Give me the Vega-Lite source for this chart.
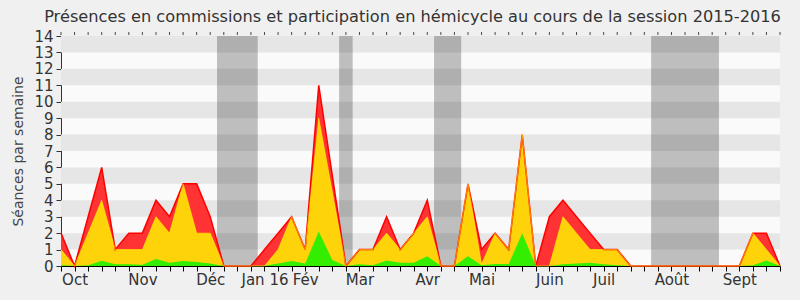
{
  "$schema": "https://vega.github.io/schema/vega-lite/v6.json",
  "autosize": {"type": "none"},
  "width": 719,
  "height": 230,
  "padding": {"left": 61, "top": 36, "right": 20, "bottom": 34},
  "background": "#f0f0f0",
  "config": {
    "view": {"stroke": null, "fill": "#fafafa"},
    "font": "DejaVu Sans",
    "axis": {"labelFont": "DejaVu Sans", "titleFont": "DejaVu Sans", "labelColor": "#333333", "titleColor": "#444444", "domainColor": "#333333", "tickColor": "#333333", "grid": false}
  },
  "title": {"text": "Présences en commissions et participation en hémicycle au cours de la session 2015-2016", "fontSize": 16.2, "fontWeight": "normal", "color": "#333333", "font": "DejaVu Sans", "anchor": "middle", "dx": -8, "offset": 4},
  "datasets": {
    "stripes": [
      {"lo": 1, "hi": 2}, {"lo": 3, "hi": 4}, {"lo": 5, "hi": 6}, {"lo": 7, "hi": 8},
      {"lo": 9, "hi": 10}, {"lo": 11, "hi": 12}, {"lo": 13, "hi": 14}
    ],
    "vacances": [
      {"start": 11.5, "end": 14.5}, {"start": 20.5, "end": 21.5},
      {"start": 27.5, "end": 29.5}, {"start": 43.5, "end": 48.5}
    ],
    "weeks": [
      {"week": 0, "red": 2, "yellow": 1, "green": 0.06},
      {"week": 1, "red": 0, "yellow": 0, "green": 0},
      {"week": 2, "red": 3, "yellow": 2, "green": 0.05},
      {"week": 3, "red": 6, "yellow": 4, "green": 0.32},
      {"week": 4, "red": 1, "yellow": 1, "green": 0.1},
      {"week": 5, "red": 2, "yellow": 1, "green": 0.1},
      {"week": 6, "red": 2, "yellow": 1, "green": 0.08},
      {"week": 7, "red": 4, "yellow": 3, "green": 0.43},
      {"week": 8, "red": 3, "yellow": 2, "green": 0.2},
      {"week": 9, "red": 5, "yellow": 5, "green": 0.3},
      {"week": 10, "red": 5, "yellow": 2, "green": 0.25},
      {"week": 11, "red": 3, "yellow": 2, "green": 0.15},
      {"week": 12, "red": 0, "yellow": 0, "green": 0},
      {"week": 13, "red": 0, "yellow": 0, "green": 0},
      {"week": 14, "red": 0, "yellow": 0, "green": 0},
      {"week": 15, "red": 1, "yellow": 0, "green": 0.02},
      {"week": 16, "red": 2, "yellow": 1, "green": 0.15},
      {"week": 17, "red": 3, "yellow": 3, "green": 0.3},
      {"week": 18, "red": 1, "yellow": 1, "green": 0.15},
      {"week": 19, "red": 11, "yellow": 9, "green": 2.1},
      {"week": 20, "red": 5.5, "yellow": 4.5, "green": 0.37},
      {"week": 21, "red": 0, "yellow": 0, "green": 0},
      {"week": 22, "red": 1, "yellow": 1, "green": 0.1},
      {"week": 23, "red": 1, "yellow": 1, "green": 0.05},
      {"week": 24, "red": 3, "yellow": 2, "green": 0.33},
      {"week": 25, "red": 1, "yellow": 1, "green": 0.2},
      {"week": 26, "red": 2, "yellow": 2, "green": 0.2},
      {"week": 27, "red": 4, "yellow": 3, "green": 0.6},
      {"week": 28, "red": 0, "yellow": 0, "green": 0},
      {"week": 29, "red": 0, "yellow": 0, "green": 0},
      {"week": 30, "red": 5, "yellow": 5, "green": 0.6},
      {"week": 31, "red": 1, "yellow": 0.1, "green": 0.05},
      {"week": 32, "red": 2, "yellow": 2, "green": 0.12},
      {"week": 33, "red": 1, "yellow": 1, "green": 0.12},
      {"week": 34, "red": 8, "yellow": 8, "green": 2},
      {"week": 35, "red": 0, "yellow": 0, "green": 0},
      {"week": 36, "red": 3, "yellow": 0, "green": 0},
      {"week": 37, "red": 4, "yellow": 3, "green": 0.1},
      {"week": 38, "red": 3, "yellow": 2, "green": 0.15},
      {"week": 39, "red": 2, "yellow": 1, "green": 0.2},
      {"week": 40, "red": 1, "yellow": 1, "green": 0.1},
      {"week": 41, "red": 1, "yellow": 1, "green": 0.05},
      {"week": 42, "red": 0, "yellow": 0, "green": 0},
      {"week": 43, "red": 0, "yellow": 0, "green": 0},
      {"week": 44, "red": 0, "yellow": 0, "green": 0},
      {"week": 45, "red": 0, "yellow": 0, "green": 0},
      {"week": 46, "red": 0, "yellow": 0, "green": 0},
      {"week": 47, "red": 0, "yellow": 0, "green": 0},
      {"week": 48, "red": 0, "yellow": 0, "green": 0},
      {"week": 49, "red": 0, "yellow": 0, "green": 0},
      {"week": 50, "red": 0, "yellow": 0, "green": 0},
      {"week": 51, "red": 2, "yellow": 2, "green": 0.05},
      {"week": 52, "red": 2, "yellow": 1, "green": 0.33},
      {"week": 53, "red": 0, "yellow": 0, "green": 0}
    ]
  },
  "resolve": {"axis": {"x": "independent", "y": "independent"}},
  "layer": [
    {
      "data": {"name": "stripes"},
      "mark": {"type": "rect", "color": "#e6e6e6"},
      "encoding": {
        "y": {"field": "lo", "type": "quantitative", "scale": {"domain": [0, 14], "nice": false},
              "axis": {"title": "Séances par semaine", "titleFontSize": 14, "titleFontWeight": "normal", "titlePadding": 8, "values": [0,1,2,3,4,5,6,7,8,9,10,11,12,13,14], "labelFontSize": 15, "labelOverlap": false, "tickSize": 5, "labelPadding": 3}},
        "y2": {"field": "hi"}
      }
    },
    {
      "data": {"name": "vacances"},
      "mark": {"type": "rect", "color": "#000000", "opacity": 0.24},
      "encoding": {
        "x": {"field": "start", "type": "quantitative", "scale": {"domain": [0, 53], "nice": false, "zero": false}, "axis": null},
        "x2": {"field": "end"}
      }
    },
    {
      "data": {"name": "weeks"},
      "mark": {"type": "area", "color": "#ff3333", "interpolate": "linear"},
      "encoding": {
        "x": {"field": "week", "type": "quantitative", "scale": {"domain": [0, 53], "nice": false, "zero": false},
              "axis": {"title": null, "values": [0,1,2,3,4,5,6,7,8,9,10,11,12,13,14,15,16,17,18,19,20,21,22,23,24,25,26,27,28,29,30,31,32,33,34,35,36,37,38,39,40,41,42,43,44,45,46,47,48,49,50,51,52,53],
                       "labelExpr": "datum.value==1?'Oct':datum.value==6?'Nov':datum.value==11?'Déc':datum.value==15?'Jan 16':datum.value==18?'Fév':datum.value==22?'Mar':datum.value==27?'Avr':datum.value==31?'Mai':datum.value==36?'Juin':datum.value==40?'Juil':datum.value==45?'Août':datum.value==50?'Sept':''",
                       "labelFontSize": 15, "labelPadding": 1, "tickSize": 5, "labelOverlap": false, "labelFlush": false, "domainColor": "#000000", "tickColor": "#000000"}},
        "y": {"field": "red", "type": "quantitative", "axis": null}
      }
    },
    {
      "data": {"name": "weeks"},
      "mark": {"type": "area", "color": "#ffd30a", "interpolate": "linear"},
      "encoding": {
        "x": {"field": "week", "type": "quantitative", "axis": null},
        "y": {"field": "yellow", "type": "quantitative", "axis": null}
      }
    },
    {
      "data": {"name": "weeks"},
      "mark": {"type": "area", "color": "#33ee00", "interpolate": "linear"},
      "encoding": {
        "x": {"field": "week", "type": "quantitative", "axis": null},
        "y": {"field": "green", "type": "quantitative", "axis": null}
      }
    },
    {
      "data": {"name": "weeks"},
      "mark": {"type": "line", "color": "#ff0000", "strokeWidth": 1.5, "interpolate": "linear"},
      "encoding": {
        "x": {"field": "week", "type": "quantitative", "axis": null},
        "y": {"field": "red", "type": "quantitative", "axis": null}
      }
    },
    {
      "data": {"name": "weeks"},
      "mark": {"type": "line", "color": "#ffff00", "strokeWidth": 1, "opacity": 0.55, "interpolate": "linear"},
      "encoding": {
        "x": {"field": "week", "type": "quantitative", "axis": null},
        "y": {"field": "yellow", "type": "quantitative", "axis": null}
      }
    },
    {
      "data": {"name": "weeks"},
      "mark": {"type": "tick", "orient": "vertical", "color": "#000000", "size": 3, "thickness": 1, "yOffset": -2.5, "clip": false},
      "encoding": {
        "x": {"field": "week", "type": "quantitative", "axis": null},
        "y": {"datum": 14, "axis": null}
      }
    }
  ]
}
